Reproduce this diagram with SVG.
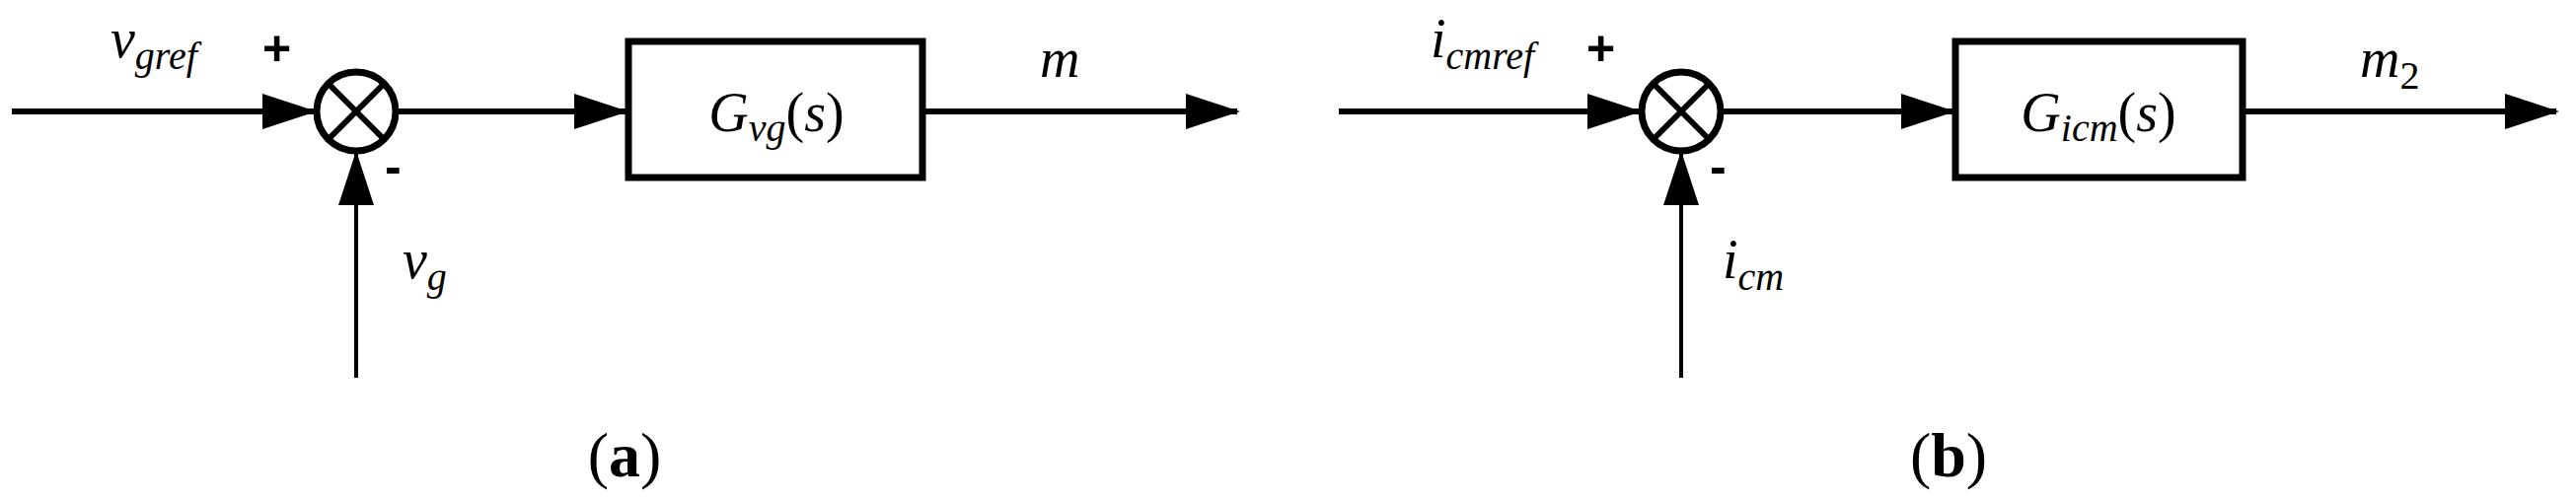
<svg xmlns="http://www.w3.org/2000/svg" width="2611" height="509" viewBox="0 0 2611 509">
<style>
.ln{stroke:#000;stroke-width:6;fill:none}
.vl{stroke:#000;stroke-width:4;fill:none}
.bx{stroke:#000;stroke-width:7;fill:#fff}
text{font-family:"Liberation Serif","Times New Roman",serif}
.t{font-style:italic;font-size:56px}
.s{font-size:40px}
.pm{font-family:"Liberation Sans",Arial,sans-serif;font-size:50px;font-weight:bold}
.cap{font-size:64px}
</style>
<defs>
<marker id="ah" markerUnits="userSpaceOnUse" markerWidth="56" markerHeight="38" refX="52" refY="18" orient="auto">
<path d="M0,0 L55,18 L0,36 Z" fill="#000"/>
</marker>
</defs>
<g id="connectors">
<line class="ln" x1="12" y1="113" x2="318" y2="113" marker-end="url(#ah)"/>
<line class="ln" x1="401" y1="113" x2="634" y2="113" marker-end="url(#ah)"/>
<line class="ln" x1="935" y1="113" x2="1254" y2="113" marker-end="url(#ah)"/>
<line class="vl" x1="361" y1="383" x2="361" y2="156" marker-end="url(#ah)"/>
<line class="ln" x1="1357" y1="113" x2="1661" y2="113" marker-end="url(#ah)"/>
<line class="ln" x1="1744" y1="113" x2="1979" y2="113" marker-end="url(#ah)"/>
<line class="ln" x1="2273" y1="113" x2="2591" y2="113" marker-end="url(#ah)"/>
<line class="vl" x1="1704" y1="383" x2="1704" y2="156" marker-end="url(#ah)"/>
</g>
<g id="sum1">
<circle cx="361" cy="113" r="40" class="bx" stroke-width="6"/>
<line class="ln" x1="333" y1="85" x2="389" y2="141"/>
<line class="ln" x1="389" y1="85" x2="333" y2="141"/>
</g>
<g id="block1">
<rect x="637" y="42" width="298" height="138" class="bx"/>
<text class="t" x="787" y="133" text-anchor="middle">G<tspan class="s" dy="10">vg</tspan><tspan dy="-10" font-style="normal">(</tspan>s<tspan font-style="normal">)</tspan></text>
</g>
<g id="labels1">
<text class="t" x="112" y="58">v<tspan class="s" dy="12">gref</tspan></text>
<text class="pm" x="266" y="66">+</text>
<text class="pm" x="390" y="186">-</text>
<text class="t" x="1054" y="78">m</text>
<text class="t" x="408" y="282">v<tspan class="s" dy="12">g</tspan></text>
<text class="cap" x="633" y="483" text-anchor="middle">(<tspan font-weight="bold">a</tspan>)</text>
</g>
<g id="sum2">
<circle cx="1704" cy="113" r="40" class="bx" stroke-width="6"/>
<line class="ln" x1="1676" y1="85" x2="1732" y2="141"/>
<line class="ln" x1="1732" y1="85" x2="1676" y2="141"/>
</g>
<g id="block2">
<rect x="1982" y="42" width="291" height="138" class="bx"/>
<text class="t" x="2127" y="133" text-anchor="middle">G<tspan class="s" dy="10">icm</tspan><tspan dy="-10" font-style="normal">(</tspan>s<tspan font-style="normal">)</tspan></text>
</g>
<g id="labels2">
<text class="t" x="1450" y="58">i<tspan class="s" dy="12">cmref</tspan></text>
<text class="pm" x="1608" y="66">+</text>
<text class="pm" x="1733" y="186">-</text>
<text class="t" x="2392" y="78">m<tspan class="s" dy="12" font-style="normal">2</tspan></text>
<text class="t" x="1746" y="282">i<tspan class="s" dy="12">cm</tspan></text>
<text class="cap" x="1975" y="483" text-anchor="middle">(<tspan font-weight="bold">b</tspan>)</text>
</g>
</svg>
